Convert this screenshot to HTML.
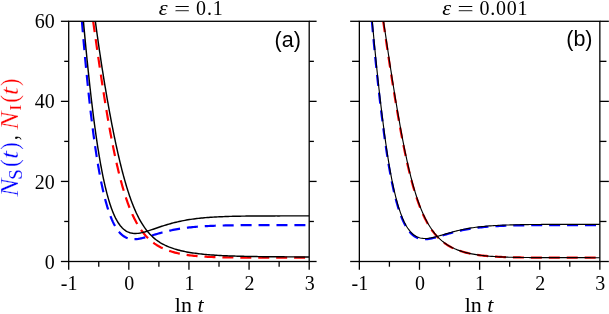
<!DOCTYPE html>
<html><head><meta charset="utf-8"><title>fig</title>
<style>
html,body{margin:0;padding:0;background:#fff;}
svg{display:block;will-change:transform;}
text{font-family:"Liberation Serif",serif;}
.tk{font-size:20px;}
.xl{font-size:22px;}
.tt{font-size:20px;}
.pl{font-family:"Liberation Sans",sans-serif;font-size:21.5px;}
</style></head>
<body>
<svg width="609" height="314" viewBox="0 0 609 314">

<clipPath id="ca"><rect x="68.7" y="21.3" width="240.5" height="240.2"/></clipPath>
<g clip-path="url(#ca)" fill="none">
<path d="M80.00,-2.67 L80.12,-1.17 L80.24,0.32 L80.35,1.82 L80.47,3.31 L80.59,4.81 L80.71,6.30 L80.82,7.80 L80.94,9.29 L81.06,10.79 L81.18,12.28 L81.30,13.77 L81.42,15.27 L81.55,16.76 L81.67,18.26 L81.79,19.75 L81.91,21.25 L82.04,22.74 L82.16,24.23 L82.29,25.73 L82.41,27.22 L82.54,28.72 L82.66,30.21 L82.79,31.70 L82.92,33.20 L83.04,34.69 L83.17,36.19 L83.30,37.68 L83.43,39.17 L83.56,40.67 L83.69,42.16 L83.82,43.65 L83.95,45.15 L84.09,46.64 L84.22,48.13 L84.35,49.63 L84.49,51.12 L84.62,52.61 L84.76,54.11 L84.90,55.60 L85.03,57.09 L85.17,58.59 L85.31,60.08 L85.45,61.57 L85.59,63.07 L85.73,64.56 L85.87,66.05 L86.01,67.54 L86.16,69.04 L86.30,70.53 L86.45,72.02 L86.59,73.51 L86.74,75.00 L86.89,76.50 L87.03,77.99 L87.18,79.48 L87.33,80.97 L87.48,82.46 L87.64,83.96 L87.79,85.45 L87.94,86.94 L88.10,88.43 L88.25,89.92 L88.41,91.41 L88.57,92.90 L88.73,94.39 L88.89,95.88 L89.05,97.37 L89.21,98.87 L89.38,100.36 L89.54,101.85 L89.71,103.34 L89.87,104.83 L90.04,106.32 L90.21,107.81 L90.38,109.29 L90.55,110.78 L90.73,112.27 L90.90,113.76 L91.08,115.25 L91.25,116.74 L91.43,118.23 L91.61,119.72 L91.80,121.21 L91.98,122.69 L92.16,124.18 L92.35,125.67 L92.54,127.16 L92.73,128.64 L92.92,130.13 L93.12,131.62 L93.31,133.10 L93.51,134.59 L93.71,136.08 L93.91,137.56 L94.11,139.05 L94.32,140.53 L94.52,142.02 L94.73,143.50 L94.95,144.99 L95.16,146.47 L95.38,147.95 L95.59,149.44 L95.81,150.92 L96.04,152.40 L96.26,153.88 L96.49,155.37 L96.73,156.85 L96.96,158.33 L97.20,159.81 L97.44,161.29 L97.68,162.77 L97.93,164.25 L98.18,165.73 L98.43,167.20 L98.69,168.68 L98.95,170.16 L99.22,171.63 L99.48,173.11 L99.76,174.58 L100.03,176.05 L100.32,177.53 L100.60,179.00 L100.89,180.47 L101.19,181.94 L101.49,183.41 L101.80,184.88 L102.11,186.34 L102.43,187.81 L102.75,189.27 L103.08,190.73 L103.42,192.19 L103.76,193.65 L104.12,195.11 L104.48,196.57 L104.84,198.02 L105.22,199.47 L105.61,200.92 L106.00,202.37 L106.41,203.81 L106.82,205.25 L107.25,206.69 L107.69,208.12 L108.15,209.55 L108.62,210.97 L109.10,212.39 L109.60,213.81 L110.11,215.21 L110.65,216.61 L111.21,218.01 L111.78,219.39 L112.39,220.76 L113.01,222.12 L113.67,223.47 L114.36,224.80 L115.08,226.12 L115.84,227.41 L116.64,228.68 L117.49,229.91 L118.39,231.11 L119.34,232.27 L120.36,233.37 L121.44,234.41 L122.58,235.38 L123.80,236.26 L125.08,237.04 L126.42,237.70 L127.82,238.25 L129.26,238.66 L130.73,238.96 L132.22,239.13 L133.71,239.20 L135.21,239.17 L136.71,239.06 L138.20,238.88 L139.68,238.65 L141.15,238.36 L142.61,238.04 L144.07,237.69 L145.52,237.31 L146.97,236.91 L148.41,236.50 L149.85,236.08 L151.28,235.66 L152.72,235.23 L154.16,234.80 L155.60,234.37 L157.03,233.95 L158.47,233.53 L159.92,233.13 L161.36,232.73 L162.81,232.34 L164.26,231.96 L165.71,231.59 L167.17,231.24 L168.63,230.90 L170.09,230.57 L171.56,230.25 L173.03,229.95 L174.50,229.66 L175.97,229.39 L177.45,229.12 L178.93,228.87 L180.41,228.64 L181.89,228.41 L183.37,228.20 L184.86,228.00 L186.35,227.81 L187.84,227.63 L189.33,227.46 L190.82,227.30 L192.31,227.15 L193.80,227.01 L195.29,226.87 L196.79,226.75 L198.28,226.63 L199.78,226.52 L201.27,226.42 L202.77,226.33 L204.27,226.24 L205.76,226.15 L207.26,226.07 L208.76,226.00 L210.26,225.93 L211.75,225.87 L213.25,225.81 L214.75,225.75 L216.25,225.70 L217.75,225.65 L219.25,225.61 L220.75,225.57 L222.24,225.53 L223.74,225.49 L225.24,225.46 L226.74,225.43 L228.24,225.40 L229.74,225.37 L231.24,225.34 L232.74,225.32 L234.24,225.30 L235.74,225.28 L237.23,225.26 L238.73,225.24 L240.23,225.23 L241.73,225.21 L243.23,225.20 L244.73,225.18 L246.23,225.17 L247.73,225.16 L249.23,225.15 L250.73,225.14 L252.23,225.13 L253.73,225.12 L255.23,225.12 L256.72,225.11 L258.22,225.10 L259.72,225.10 L261.22,225.09 L262.72,225.09 L264.22,225.08 L265.72,225.08 L267.22,225.07 L268.72,225.07 L270.22,225.07 L271.72,225.06 L273.22,225.06 L274.72,225.06 L276.22,225.05 L277.71,225.05 L279.21,225.05 L280.71,225.05 L282.21,225.05 L283.71,225.04 L285.21,225.04 L286.71,225.04 L288.21,225.04 L289.71,225.04 L291.21,225.04 L292.71,225.04 L294.21,225.03 L295.71,225.03 L297.21,225.03 L298.70,225.03 L300.20,225.03 L301.70,225.03 L303.20,225.03 L304.70,225.03 L306.20,225.03 L307.70,225.03 L309.20,225.03" stroke="#0000ff" stroke-width="2.2" stroke-dasharray="11.0 6.93" stroke-dashoffset="11.82"/>
<path d="M89.86,-2.57 L90.07,-1.09 L90.27,0.39 L90.48,1.88 L90.69,3.36 L90.89,4.84 L91.10,6.32 L91.30,7.80 L91.51,9.28 L91.71,10.76 L91.92,12.24 L92.12,13.72 L92.33,15.21 L92.54,16.69 L92.74,18.17 L92.95,19.65 L93.15,21.13 L93.36,22.61 L93.57,24.09 L93.78,25.57 L93.98,27.05 L94.19,28.54 L94.40,30.02 L94.61,31.50 L94.81,32.98 L95.02,34.46 L95.23,35.94 L95.44,37.42 L95.65,38.90 L95.86,40.38 L96.07,41.86 L96.28,43.34 L96.49,44.82 L96.70,46.30 L96.91,47.78 L97.12,49.26 L97.34,50.74 L97.55,52.22 L97.76,53.71 L97.98,55.19 L98.19,56.67 L98.40,58.14 L98.62,59.62 L98.84,61.10 L99.05,62.58 L99.27,64.06 L99.49,65.54 L99.70,67.02 L99.92,68.50 L100.14,69.98 L100.36,71.46 L100.58,72.94 L100.80,74.42 L101.03,75.90 L101.25,77.38 L101.47,78.85 L101.70,80.33 L101.92,81.81 L102.15,83.29 L102.38,84.77 L102.60,86.25 L102.83,87.72 L103.06,89.20 L103.29,90.68 L103.52,92.16 L103.76,93.63 L103.99,95.11 L104.22,96.59 L104.46,98.06 L104.70,99.54 L104.93,101.02 L105.17,102.49 L105.41,103.97 L105.65,105.44 L105.90,106.92 L106.14,108.40 L106.39,109.87 L106.63,111.35 L106.88,112.82 L107.13,114.29 L107.38,115.77 L107.63,117.24 L107.89,118.72 L108.14,120.19 L108.40,121.66 L108.66,123.14 L108.92,124.61 L109.18,126.08 L109.45,127.55 L109.71,129.02 L109.98,130.50 L110.25,131.97 L110.52,133.44 L110.80,134.91 L111.07,136.38 L111.35,137.85 L111.63,139.31 L111.92,140.78 L112.20,142.25 L112.49,143.72 L112.78,145.19 L113.07,146.65 L113.37,148.12 L113.66,149.58 L113.97,151.05 L114.27,152.51 L114.58,153.98 L114.89,155.44 L115.20,156.90 L115.52,158.36 L115.84,159.82 L116.16,161.28 L116.49,162.74 L116.82,164.20 L117.15,165.66 L117.49,167.11 L117.83,168.57 L118.18,170.02 L118.53,171.48 L118.89,172.93 L119.25,174.38 L119.61,175.83 L119.98,177.28 L120.36,178.73 L120.74,180.17 L121.13,181.62 L121.52,183.06 L121.92,184.50 L122.32,185.94 L122.74,187.38 L123.15,188.82 L123.58,190.25 L124.01,191.68 L124.45,193.11 L124.90,194.54 L125.36,195.96 L125.82,197.38 L126.30,198.80 L126.78,200.21 L127.28,201.63 L127.78,203.03 L128.30,204.44 L128.82,205.84 L129.36,207.23 L129.91,208.62 L130.47,210.01 L131.05,211.39 L131.64,212.76 L132.25,214.13 L132.87,215.49 L133.51,216.84 L134.16,218.18 L134.84,219.52 L135.53,220.85 L136.24,222.16 L136.97,223.46 L137.73,224.76 L138.50,226.03 L139.30,227.30 L140.13,228.55 L140.97,229.78 L141.85,230.99 L142.75,232.18 L143.68,233.36 L144.64,234.50 L145.62,235.63 L146.64,236.73 L147.68,237.80 L148.75,238.84 L149.86,239.85 L150.99,240.83 L152.15,241.77 L153.33,242.69 L154.54,243.56 L155.78,244.40 L157.04,245.21 L158.32,245.97 L159.63,246.70 L160.95,247.40 L162.29,248.06 L163.65,248.69 L165.03,249.28 L166.41,249.84 L167.81,250.36 L169.22,250.86 L170.64,251.33 L172.07,251.77 L173.51,252.18 L174.95,252.57 L176.40,252.93 L177.86,253.27 L179.32,253.59 L180.79,253.88 L182.26,254.16 L183.73,254.42 L185.21,254.66 L186.68,254.89 L188.16,255.10 L189.65,255.29 L191.13,255.48 L192.62,255.65 L194.10,255.80 L195.59,255.95 L197.08,256.09 L198.57,256.21 L200.06,256.33 L201.55,256.44 L203.05,256.54 L204.54,256.63 L206.03,256.72 L207.52,256.80 L209.02,256.87 L210.51,256.94 L212.01,257.00 L213.50,257.06 L214.99,257.11 L216.49,257.16 L217.98,257.21 L219.48,257.25 L220.97,257.29 L222.47,257.32 L223.96,257.35 L225.46,257.38 L226.95,257.41 L228.45,257.44 L229.94,257.46 L231.44,257.48 L232.94,257.50 L234.43,257.52 L235.93,257.53 L237.42,257.55 L238.92,257.56 L240.41,257.57 L241.91,257.58 L243.40,257.60 L244.90,257.60 L246.39,257.61 L247.89,257.62 L249.38,257.63 L250.88,257.63 L252.37,257.64 L253.87,257.65 L255.37,257.65 L256.86,257.66 L258.36,257.66 L259.85,257.66 L261.35,257.67 L262.84,257.67 L264.34,257.67 L265.83,257.67 L267.33,257.68 L268.82,257.68 L270.32,257.68 L271.81,257.68 L273.31,257.68 L274.81,257.68 L276.30,257.69 L277.80,257.69 L279.29,257.69 L280.79,257.69 L282.28,257.69 L283.78,257.69 L285.27,257.69 L286.77,257.69 L288.26,257.69 L289.76,257.69 L291.26,257.69 L292.75,257.69 L294.25,257.69 L295.74,257.69 L297.24,257.69 L298.73,257.69 L300.23,257.70 L301.72,257.70 L303.22,257.70 L304.71,257.70 L306.21,257.70 L307.70,257.70 L309.20,257.70" stroke="#ff0000" stroke-width="2.2" stroke-dasharray="11.0 6.93" stroke-dashoffset="11.76"/>
<path d="M81.39,-2.02 L81.51,-0.53 L81.64,0.97 L81.77,2.46 L81.90,3.96 L82.03,5.45 L82.16,6.94 L82.29,8.44 L82.42,9.93 L82.55,11.43 L82.68,12.92 L82.82,14.41 L82.95,15.91 L83.08,17.40 L83.22,18.90 L83.35,20.39 L83.49,21.88 L83.62,23.38 L83.76,24.87 L83.89,26.36 L84.03,27.86 L84.17,29.35 L84.30,30.84 L84.44,32.34 L84.58,33.83 L84.72,35.32 L84.86,36.82 L85.00,38.31 L85.14,39.80 L85.28,41.30 L85.42,42.79 L85.57,44.28 L85.71,45.78 L85.85,47.27 L86.00,48.76 L86.14,50.25 L86.29,51.75 L86.44,53.24 L86.59,54.73 L86.73,56.22 L86.88,57.72 L87.03,59.21 L87.18,60.70 L87.33,62.19 L87.48,63.68 L87.64,65.18 L87.79,66.67 L87.94,68.16 L88.10,69.65 L88.25,71.14 L88.41,72.64 L88.57,74.13 L88.73,75.62 L88.89,77.11 L89.05,78.60 L89.21,80.09 L89.37,81.58 L89.53,83.07 L89.69,84.56 L89.86,86.05 L90.02,87.55 L90.19,89.04 L90.36,90.53 L90.53,92.02 L90.70,93.51 L90.87,95.00 L91.04,96.49 L91.21,97.98 L91.39,99.47 L91.56,100.96 L91.74,102.44 L91.92,103.93 L92.10,105.42 L92.28,106.91 L92.46,108.40 L92.64,109.89 L92.83,111.38 L93.01,112.87 L93.20,114.35 L93.39,115.84 L93.58,117.33 L93.77,118.82 L93.97,120.30 L94.16,121.79 L94.36,123.28 L94.56,124.76 L94.76,126.25 L94.96,127.74 L95.16,129.22 L95.37,130.71 L95.57,132.19 L95.78,133.68 L95.99,135.16 L96.21,136.65 L96.42,138.13 L96.64,139.62 L96.86,141.10 L97.08,142.58 L97.31,144.06 L97.53,145.55 L97.76,147.03 L98.00,148.51 L98.23,149.99 L98.47,151.47 L98.71,152.95 L98.95,154.43 L99.20,155.91 L99.45,157.39 L99.70,158.87 L99.95,160.35 L100.21,161.83 L100.47,163.30 L100.74,164.78 L101.01,166.25 L101.28,167.73 L101.56,169.20 L101.84,170.67 L102.13,172.15 L102.42,173.62 L102.71,175.09 L103.01,176.56 L103.32,178.03 L103.63,179.49 L103.95,180.96 L104.27,182.42 L104.60,183.89 L104.93,185.35 L105.27,186.81 L105.62,188.27 L105.98,189.73 L106.34,191.18 L106.71,192.63 L107.09,194.09 L107.48,195.53 L107.88,196.98 L108.29,198.42 L108.71,199.86 L109.14,201.30 L109.58,202.73 L110.04,204.16 L110.51,205.58 L110.99,207.00 L111.49,208.42 L112.01,209.82 L112.55,211.22 L113.11,212.62 L113.69,214.00 L114.29,215.37 L114.92,216.73 L115.58,218.08 L116.27,219.41 L117.00,220.72 L117.76,222.01 L118.57,223.28 L119.42,224.51 L120.32,225.71 L121.28,226.86 L122.31,227.96 L123.39,228.99 L124.55,229.94 L125.78,230.80 L127.08,231.55 L128.44,232.19 L129.85,232.69 L131.30,233.06 L132.78,233.30 L134.28,233.42 L135.77,233.43 L137.27,233.35 L138.76,233.18 L140.24,232.94 L141.71,232.65 L143.17,232.31 L144.62,231.93 L146.07,231.51 L147.50,231.08 L148.93,230.63 L150.36,230.16 L151.78,229.68 L153.20,229.20 L154.62,228.71 L156.04,228.23 L157.45,227.74 L158.87,227.26 L160.30,226.78 L161.72,226.31 L163.15,225.85 L164.58,225.40 L166.01,224.95 L167.45,224.52 L168.89,224.10 L170.33,223.70 L171.78,223.30 L173.23,222.92 L174.68,222.55 L176.14,222.19 L177.60,221.85 L179.06,221.52 L180.53,221.21 L182.00,220.91 L183.47,220.62 L184.94,220.34 L186.42,220.08 L187.90,219.83 L189.38,219.59 L190.86,219.36 L192.34,219.14 L193.83,218.94 L195.32,218.75 L196.81,218.56 L198.29,218.39 L199.79,218.22 L201.28,218.07 L202.77,217.92 L204.26,217.78 L205.76,217.65 L207.25,217.53 L208.75,217.42 L210.24,217.31 L211.74,217.21 L213.24,217.11 L214.73,217.02 L216.23,216.94 L217.73,216.86 L219.23,216.79 L220.72,216.72 L222.22,216.66 L223.72,216.60 L225.22,216.54 L226.72,216.49 L228.22,216.44 L229.72,216.40 L231.22,216.36 L232.72,216.32 L234.22,216.28 L235.71,216.25 L237.21,216.22 L238.71,216.19 L240.21,216.17 L241.71,216.14 L243.21,216.12 L244.71,216.10 L246.21,216.08 L247.71,216.06 L249.21,216.05 L250.71,216.03 L252.21,216.02 L253.71,216.00 L255.21,215.99 L256.71,215.98 L258.21,215.97 L259.71,215.96 L261.21,215.95 L262.71,215.95 L264.21,215.94 L265.71,215.93 L267.21,215.93 L268.71,215.92 L270.21,215.92 L271.71,215.91 L273.21,215.91 L274.71,215.91 L276.21,215.90 L277.71,215.90 L279.21,215.90 L280.70,215.89 L282.20,215.89 L283.70,215.89 L285.20,215.89 L286.70,215.89 L288.20,215.89 L289.70,215.88 L291.20,215.88 L292.70,215.88 L294.20,215.88 L295.70,215.88 L297.20,215.88 L298.70,215.88 L300.20,215.88 L301.70,215.88 L303.20,215.88 L304.70,215.88 L306.20,215.88 L307.70,215.88 L309.20,215.87" stroke="#000" stroke-width="1.45"/>
<path d="M92.33,-2.34 L92.51,-0.86 L92.70,0.63 L92.88,2.11 L93.07,3.60 L93.25,5.08 L93.44,6.57 L93.63,8.05 L93.82,9.53 L94.01,11.02 L94.20,12.50 L94.39,13.99 L94.58,15.47 L94.78,16.95 L94.97,18.44 L95.17,19.92 L95.37,21.40 L95.57,22.89 L95.77,24.37 L95.97,25.85 L96.17,27.33 L96.37,28.82 L96.57,30.30 L96.78,31.78 L96.98,33.26 L97.19,34.74 L97.40,36.23 L97.61,37.71 L97.82,39.19 L98.03,40.67 L98.24,42.15 L98.45,43.63 L98.66,45.11 L98.88,46.59 L99.10,48.07 L99.31,49.55 L99.53,51.03 L99.75,52.51 L99.97,53.99 L100.19,55.47 L100.41,56.95 L100.64,58.43 L100.86,59.91 L101.09,61.39 L101.31,62.87 L101.54,64.35 L101.77,65.83 L102.00,67.30 L102.23,68.78 L102.46,70.26 L102.70,71.74 L102.93,73.22 L103.17,74.69 L103.41,76.17 L103.64,77.65 L103.88,79.12 L104.12,80.60 L104.37,82.08 L104.61,83.55 L104.85,85.03 L105.10,86.51 L105.35,87.98 L105.59,89.46 L105.84,90.93 L106.09,92.41 L106.35,93.88 L106.60,95.36 L106.85,96.83 L107.11,98.30 L107.37,99.78 L107.62,101.25 L107.89,102.72 L108.15,104.20 L108.41,105.67 L108.67,107.14 L108.94,108.62 L109.21,110.09 L109.48,111.56 L109.75,113.03 L110.02,114.50 L110.29,115.97 L110.57,117.44 L110.85,118.91 L111.13,120.38 L111.41,121.85 L111.69,123.32 L111.97,124.79 L112.26,126.26 L112.55,127.73 L112.84,129.20 L113.13,130.66 L113.42,132.13 L113.72,133.60 L114.02,135.06 L114.32,136.53 L114.62,137.99 L114.93,139.46 L115.23,140.92 L115.54,142.39 L115.86,143.85 L116.17,145.31 L116.49,146.77 L116.81,148.23 L117.13,149.70 L117.46,151.16 L117.78,152.62 L118.12,154.07 L118.45,155.53 L118.79,156.99 L119.13,158.45 L119.47,159.90 L119.82,161.36 L120.17,162.81 L120.53,164.27 L120.88,165.72 L121.25,167.17 L121.61,168.62 L121.98,170.07 L122.36,171.52 L122.74,172.97 L123.12,174.41 L123.51,175.86 L123.91,177.30 L124.31,178.74 L124.71,180.18 L125.12,181.62 L125.54,183.06 L125.96,184.49 L126.39,185.93 L126.82,187.36 L127.26,188.79 L127.71,190.21 L128.17,191.64 L128.63,193.06 L129.10,194.48 L129.58,195.90 L130.07,197.31 L130.57,198.72 L131.08,200.13 L131.59,201.54 L132.12,202.94 L132.66,204.33 L133.21,205.72 L133.77,207.11 L134.35,208.49 L134.94,209.87 L135.54,211.23 L136.15,212.60 L136.79,213.95 L137.44,215.30 L138.10,216.64 L138.78,217.97 L139.49,219.29 L140.21,220.60 L140.95,221.90 L141.72,223.19 L142.51,224.46 L143.32,225.72 L144.15,226.96 L145.01,228.18 L145.90,229.38 L146.82,230.57 L147.77,231.73 L148.74,232.86 L149.74,233.97 L150.78,235.05 L151.84,236.10 L152.94,237.12 L154.06,238.11 L155.21,239.06 L156.40,239.98 L157.61,240.86 L158.84,241.70 L160.10,242.51 L161.38,243.28 L162.69,244.01 L164.01,244.71 L165.35,245.37 L166.71,246.00 L168.08,246.59 L169.47,247.16 L170.87,247.69 L172.28,248.19 L173.70,248.67 L175.12,249.11 L176.56,249.54 L178.00,249.94 L179.45,250.32 L180.90,250.68 L182.36,251.01 L183.82,251.33 L185.28,251.64 L186.75,251.92 L188.22,252.19 L189.70,252.45 L191.18,252.69 L192.65,252.92 L194.13,253.13 L195.62,253.34 L197.10,253.53 L198.58,253.72 L200.07,253.89 L201.56,254.05 L203.05,254.21 L204.53,254.35 L206.02,254.49 L207.51,254.62 L209.01,254.75 L210.50,254.87 L211.99,254.98 L213.48,255.08 L214.97,255.18 L216.47,255.28 L217.96,255.37 L219.45,255.45 L220.95,255.53 L222.44,255.61 L223.94,255.68 L225.43,255.75 L226.93,255.81 L228.42,255.88 L229.92,255.93 L231.41,255.99 L232.91,256.04 L234.40,256.09 L235.90,256.14 L237.39,256.18 L238.89,256.22 L240.38,256.26 L241.88,256.30 L243.38,256.34 L244.87,256.37 L246.37,256.40 L247.86,256.43 L249.36,256.46 L250.85,256.49 L252.35,256.52 L253.85,256.54 L255.34,256.57 L256.84,256.59 L258.33,256.61 L259.83,256.63 L261.33,256.65 L262.82,256.67 L264.32,256.68 L265.81,256.70 L267.31,256.72 L268.81,256.73 L270.30,256.75 L271.80,256.76 L273.29,256.77 L274.79,256.78 L276.29,256.79 L277.78,256.81 L279.28,256.82 L280.77,256.83 L282.27,256.84 L283.77,256.84 L285.26,256.85 L286.76,256.86 L288.25,256.87 L289.75,256.88 L291.25,256.88 L292.74,256.89 L294.24,256.90 L295.74,256.90 L297.23,256.91 L298.73,256.91 L300.22,256.92 L301.72,256.92 L303.22,256.93 L304.71,256.93 L306.21,256.94 L307.70,256.94 L309.20,256.94" stroke="#000" stroke-width="1.45"/>
</g>
<clipPath id="cb"><rect x="359.35" y="21.3" width="240.5" height="240.2"/></clipPath>
<g clip-path="url(#cb)" fill="none">
<path d="M369.78,-2.67 L369.91,-1.17 L370.04,0.32 L370.16,1.82 L370.29,3.31 L370.42,4.81 L370.55,6.30 L370.68,7.80 L370.81,9.29 L370.94,10.79 L371.07,12.28 L371.20,13.77 L371.33,15.27 L371.46,16.76 L371.60,18.26 L371.73,19.75 L371.86,21.25 L372.00,22.74 L372.13,24.23 L372.27,25.73 L372.40,27.22 L372.54,28.72 L372.67,30.21 L372.81,31.70 L372.95,33.20 L373.09,34.69 L373.23,36.19 L373.37,37.68 L373.51,39.17 L373.65,40.67 L373.79,42.16 L373.93,43.65 L374.07,45.15 L374.22,46.64 L374.36,48.13 L374.50,49.63 L374.65,51.12 L374.80,52.61 L374.94,54.11 L375.09,55.60 L375.24,57.09 L375.39,58.59 L375.53,60.08 L375.68,61.57 L375.84,63.07 L375.99,64.56 L376.14,66.05 L376.29,67.54 L376.45,69.04 L376.60,70.53 L376.76,72.02 L376.91,73.51 L377.07,75.00 L377.23,76.50 L377.39,77.99 L377.55,79.48 L377.71,80.97 L377.87,82.46 L378.03,83.96 L378.19,85.45 L378.36,86.94 L378.52,88.43 L378.69,89.92 L378.86,91.41 L379.03,92.90 L379.20,94.39 L379.37,95.88 L379.54,97.37 L379.71,98.87 L379.89,100.36 L380.06,101.85 L380.24,103.34 L380.41,104.83 L380.59,106.32 L380.77,107.81 L380.96,109.29 L381.14,110.78 L381.32,112.27 L381.51,113.76 L381.69,115.25 L381.88,116.74 L382.07,118.23 L382.26,119.72 L382.45,121.21 L382.63,122.69 L382.81,124.18 L383.00,125.67 L383.19,127.16 L383.38,128.64 L383.57,130.13 L383.77,131.62 L383.96,133.10 L384.16,134.59 L384.36,136.08 L384.56,137.56 L384.76,139.05 L384.97,140.53 L385.17,142.02 L385.38,143.50 L385.60,144.99 L385.81,146.47 L386.03,147.95 L386.24,149.44 L386.46,150.92 L386.69,152.40 L386.91,153.88 L387.14,155.37 L387.38,156.85 L387.61,158.33 L387.85,159.81 L388.09,161.29 L388.33,162.77 L388.58,164.25 L388.83,165.73 L389.08,167.20 L389.34,168.68 L389.60,170.16 L389.87,171.63 L390.13,173.11 L390.41,174.58 L390.68,176.05 L390.97,177.53 L391.25,179.00 L391.54,180.47 L391.84,181.94 L392.14,183.41 L392.45,184.88 L392.76,186.34 L393.08,187.81 L393.40,189.27 L393.73,190.73 L394.07,192.19 L394.41,193.65 L394.77,195.11 L395.13,196.57 L395.49,198.02 L395.87,199.47 L396.26,200.92 L396.65,202.37 L397.06,203.81 L397.47,205.25 L397.90,206.69 L398.34,208.12 L398.80,209.55 L399.27,210.97 L399.75,212.39 L400.25,213.81 L400.76,215.21 L401.30,216.61 L401.86,218.01 L402.43,219.39 L403.04,220.76 L403.66,222.12 L404.32,223.47 L405.01,224.80 L405.73,226.12 L406.49,227.41 L407.29,228.68 L408.14,229.91 L409.04,231.11 L409.99,232.27 L411.01,233.37 L412.09,234.41 L413.23,235.38 L414.45,236.26 L415.73,237.04 L417.07,237.70 L418.47,238.25 L419.91,238.66 L421.38,238.96 L422.87,239.13 L424.36,239.20 L425.86,239.17 L427.36,239.06 L428.85,238.88 L430.33,238.65 L431.80,238.36 L433.26,238.04 L434.72,237.69 L436.17,237.31 L437.62,236.91 L439.06,236.50 L440.50,236.08 L441.93,235.66 L443.37,235.23 L444.81,234.80 L446.25,234.37 L447.68,233.95 L449.12,233.53 L450.57,233.13 L452.01,232.73 L453.46,232.34 L454.91,231.96 L456.36,231.59 L457.82,231.24 L459.28,230.90 L460.74,230.57 L462.21,230.25 L463.68,229.95 L465.15,229.66 L466.62,229.39 L468.10,229.12 L469.58,228.87 L471.06,228.64 L472.54,228.41 L474.02,228.20 L475.51,228.00 L477.00,227.81 L478.49,227.63 L479.98,227.46 L481.47,227.30 L482.96,227.15 L484.45,227.01 L485.94,226.87 L487.44,226.75 L488.93,226.63 L490.43,226.52 L491.92,226.42 L493.42,226.33 L494.92,226.24 L496.41,226.15 L497.91,226.07 L499.41,226.00 L500.91,225.93 L502.40,225.87 L503.90,225.81 L505.40,225.75 L506.90,225.70 L508.40,225.65 L509.90,225.61 L511.40,225.57 L512.89,225.53 L514.39,225.49 L515.89,225.46 L517.39,225.43 L518.89,225.40 L520.39,225.37 L521.89,225.34 L523.39,225.32 L524.89,225.30 L526.39,225.28 L527.88,225.26 L529.38,225.24 L530.88,225.23 L532.38,225.21 L533.88,225.20 L535.38,225.18 L536.88,225.17 L538.38,225.16 L539.88,225.15 L541.38,225.14 L542.88,225.13 L544.38,225.12 L545.88,225.12 L547.37,225.11 L548.87,225.10 L550.37,225.10 L551.87,225.09 L553.37,225.09 L554.87,225.08 L556.37,225.08 L557.87,225.07 L559.37,225.07 L560.87,225.07 L562.37,225.06 L563.87,225.06 L565.37,225.06 L566.87,225.05 L568.36,225.05 L569.86,225.05 L571.36,225.05 L572.86,225.05 L574.36,225.04 L575.86,225.04 L577.36,225.04 L578.86,225.04 L580.36,225.04 L581.86,225.04 L583.36,225.04 L584.86,225.03 L586.36,225.03 L587.86,225.03 L589.35,225.03 L590.85,225.03 L592.35,225.03 L593.85,225.03 L595.35,225.03 L596.85,225.03 L598.35,225.03 L599.85,225.03" stroke="#0000ff" stroke-width="2.2" stroke-dasharray="11.0 6.93" stroke-dashoffset="11.80"/>
<path d="M379.77,-2.57 L379.98,-1.09 L380.20,0.39 L380.41,1.88 L380.63,3.36 L380.84,4.84 L381.05,6.32 L381.27,7.80 L381.48,9.28 L381.70,10.76 L381.91,12.24 L382.13,13.72 L382.34,15.21 L382.56,16.69 L382.77,18.17 L382.99,19.65 L383.20,21.13 L383.42,22.61 L383.64,24.09 L383.85,25.57 L384.07,27.05 L384.28,28.54 L384.50,30.02 L384.72,31.50 L384.93,32.98 L385.15,34.46 L385.37,35.94 L385.59,37.42 L385.81,38.90 L386.02,40.38 L386.24,41.86 L386.46,43.34 L386.68,44.82 L386.90,46.30 L387.12,47.78 L387.34,49.26 L387.57,50.74 L387.79,52.22 L388.01,53.71 L388.23,55.19 L388.45,56.67 L388.68,58.14 L388.90,59.62 L389.13,61.10 L389.35,62.58 L389.58,64.06 L389.81,65.54 L390.03,67.02 L390.26,68.50 L390.49,69.98 L390.72,71.46 L390.95,72.94 L391.18,74.42 L391.41,75.90 L391.64,77.38 L391.87,78.85 L392.11,80.33 L392.34,81.81 L392.58,83.29 L392.81,84.77 L393.05,86.25 L393.29,87.72 L393.52,89.20 L393.76,90.68 L394.00,92.16 L394.25,93.63 L394.49,95.11 L394.73,96.59 L394.98,98.06 L395.22,99.54 L395.47,101.02 L395.72,102.49 L395.97,103.97 L396.22,105.44 L396.47,106.92 L396.72,108.40 L396.98,109.87 L397.23,111.35 L397.49,112.82 L397.75,114.29 L398.01,115.77 L398.27,117.24 L398.53,118.72 L398.79,120.19 L399.05,121.66 L399.31,123.14 L399.57,124.61 L399.83,126.08 L400.10,127.55 L400.36,129.02 L400.63,130.50 L400.90,131.97 L401.17,133.44 L401.45,134.91 L401.72,136.38 L402.00,137.85 L402.28,139.31 L402.57,140.78 L402.85,142.25 L403.14,143.72 L403.43,145.19 L403.72,146.65 L404.02,148.12 L404.31,149.58 L404.62,151.05 L404.92,152.51 L405.23,153.98 L405.54,155.44 L405.85,156.90 L406.17,158.36 L406.49,159.82 L406.81,161.28 L407.14,162.74 L407.47,164.20 L407.80,165.66 L408.14,167.11 L408.48,168.57 L408.83,170.02 L409.18,171.48 L409.54,172.93 L409.90,174.38 L410.26,175.83 L410.63,177.28 L411.01,178.73 L411.39,180.17 L411.78,181.62 L412.17,183.06 L412.57,184.50 L412.97,185.94 L413.39,187.38 L413.80,188.82 L414.23,190.25 L414.66,191.68 L415.10,193.11 L415.55,194.54 L416.01,195.96 L416.47,197.38 L416.95,198.80 L417.43,200.21 L417.93,201.63 L418.43,203.03 L418.95,204.44 L419.47,205.84 L420.01,207.23 L420.56,208.62 L421.12,210.01 L421.70,211.39 L422.29,212.76 L422.90,214.13 L423.52,215.49 L424.16,216.84 L424.81,218.18 L425.49,219.52 L426.18,220.85 L426.89,222.16 L427.62,223.46 L428.38,224.76 L429.15,226.03 L429.95,227.30 L430.78,228.55 L431.62,229.78 L432.50,230.99 L433.40,232.18 L434.33,233.36 L435.29,234.50 L436.27,235.63 L437.29,236.73 L438.33,237.80 L439.40,238.84 L440.51,239.85 L441.64,240.83 L442.80,241.77 L443.98,242.69 L445.19,243.56 L446.43,244.40 L447.69,245.21 L448.97,245.97 L450.28,246.70 L451.60,247.40 L452.94,248.06 L454.30,248.69 L455.68,249.28 L457.06,249.84 L458.46,250.36 L459.87,250.86 L461.29,251.33 L462.72,251.77 L464.16,252.18 L465.60,252.57 L467.05,252.93 L468.51,253.27 L469.97,253.59 L471.44,253.88 L472.91,254.16 L474.38,254.42 L475.86,254.66 L477.33,254.89 L478.81,255.10 L480.30,255.29 L481.78,255.48 L483.27,255.65 L484.75,255.80 L486.24,255.95 L487.73,256.09 L489.22,256.21 L490.71,256.33 L492.20,256.44 L493.70,256.54 L495.19,256.63 L496.68,256.72 L498.17,256.80 L499.67,256.87 L501.16,256.94 L502.66,257.00 L504.15,257.06 L505.64,257.11 L507.14,257.16 L508.63,257.21 L510.13,257.25 L511.62,257.29 L513.12,257.32 L514.61,257.35 L516.11,257.38 L517.60,257.41 L519.10,257.44 L520.59,257.46 L522.09,257.48 L523.59,257.50 L525.08,257.52 L526.58,257.53 L528.07,257.55 L529.57,257.56 L531.06,257.57 L532.56,257.58 L534.05,257.60 L535.55,257.60 L537.04,257.61 L538.54,257.62 L540.03,257.63 L541.53,257.63 L543.02,257.64 L544.52,257.65 L546.02,257.65 L547.51,257.66 L549.01,257.66 L550.50,257.66 L552.00,257.67 L553.49,257.67 L554.99,257.67 L556.48,257.67 L557.98,257.68 L559.47,257.68 L560.97,257.68 L562.46,257.68 L563.96,257.68 L565.46,257.68 L566.95,257.69 L568.45,257.69 L569.94,257.69 L571.44,257.69 L572.93,257.69 L574.43,257.69 L575.92,257.69 L577.42,257.69 L578.91,257.69 L580.41,257.69 L581.91,257.69 L583.40,257.69 L584.90,257.69 L586.39,257.69 L587.89,257.69 L589.38,257.69 L590.88,257.70 L592.37,257.70 L593.87,257.70 L595.36,257.70 L596.86,257.70 L598.35,257.70 L599.85,257.70" stroke="#ff0000" stroke-width="2.2" stroke-dasharray="11.0 6.93" stroke-dashoffset="11.74"/>
<path d="M370.13,-3.37 L370.26,-1.87 L370.39,-0.38 L370.51,1.12 L370.64,2.61 L370.77,4.11 L370.90,5.60 L371.03,7.10 L371.16,8.59 L371.29,10.09 L371.42,11.58 L371.55,13.07 L371.68,14.57 L371.81,16.06 L371.95,17.56 L372.08,19.05 L372.21,20.55 L372.35,22.04 L372.48,23.53 L372.62,25.03 L372.75,26.52 L372.89,28.02 L373.02,29.51 L373.16,31.00 L373.30,32.50 L373.44,33.99 L373.58,35.49 L373.72,36.98 L373.86,38.47 L374.00,39.97 L374.14,41.46 L374.28,42.95 L374.42,44.45 L374.57,45.94 L374.71,47.43 L374.85,48.93 L375.00,50.42 L375.15,51.91 L375.29,53.41 L375.44,54.90 L375.59,56.39 L375.74,57.89 L375.88,59.38 L376.03,60.87 L376.19,62.37 L376.34,63.86 L376.49,65.35 L376.64,66.84 L376.80,68.34 L376.95,69.83 L377.11,71.32 L377.26,72.81 L377.42,74.30 L377.58,75.80 L377.74,77.29 L377.90,78.78 L378.06,80.27 L378.22,81.76 L378.38,83.26 L378.54,84.75 L378.71,86.24 L378.87,87.73 L379.04,89.22 L379.21,90.71 L379.38,92.20 L379.55,93.69 L379.72,95.18 L379.89,96.67 L380.06,98.17 L380.24,99.66 L380.41,101.15 L380.59,102.64 L380.76,104.13 L380.94,105.62 L381.12,107.11 L381.31,108.59 L381.49,110.08 L381.67,111.57 L381.86,113.06 L382.04,114.55 L382.23,116.04 L382.42,117.53 L382.61,119.02 L382.80,120.51 L382.98,121.99 L383.16,123.48 L383.35,124.97 L383.54,126.46 L383.73,127.94 L383.92,129.43 L384.12,130.92 L384.31,132.40 L384.51,133.89 L384.71,135.38 L384.91,136.86 L385.11,138.35 L385.32,139.83 L385.52,141.32 L385.73,142.80 L385.95,144.29 L386.16,145.77 L386.38,147.25 L386.59,148.74 L386.81,150.22 L387.04,151.70 L387.26,153.18 L387.49,154.67 L387.73,156.15 L387.96,157.63 L388.20,159.11 L388.44,160.59 L388.68,162.07 L388.93,163.55 L389.18,165.03 L389.43,166.50 L389.69,167.98 L389.95,169.46 L390.22,170.93 L390.48,172.41 L390.76,173.88 L391.03,175.35 L391.32,176.83 L391.60,178.30 L391.89,179.77 L392.19,181.24 L392.49,182.71 L392.80,184.18 L393.11,185.64 L393.43,187.11 L393.75,188.57 L394.08,190.03 L394.42,191.49 L394.76,192.95 L395.12,194.41 L395.48,195.87 L395.84,197.32 L396.22,198.77 L396.61,200.22 L397.00,201.67 L397.41,203.11 L397.82,204.55 L398.25,205.99 L398.69,207.42 L399.15,208.85 L399.62,210.27 L400.10,211.69 L400.60,213.11 L401.11,214.51 L401.65,215.91 L402.21,217.31 L402.78,218.69 L403.39,220.06 L404.01,221.42 L404.67,222.77 L405.36,224.10 L406.08,225.42 L406.84,226.71 L407.64,227.98 L408.49,229.21 L409.39,230.41 L410.34,231.57 L411.36,232.67 L412.44,233.71 L413.58,234.68 L414.80,235.56 L416.08,236.34 L417.42,237.00 L418.82,237.55 L420.26,237.96 L421.73,238.26 L423.22,238.43 L424.71,238.50 L426.21,238.47 L427.71,238.36 L429.20,238.18 L430.68,237.95 L432.15,237.66 L433.61,237.34 L435.07,236.99 L436.52,236.61 L437.97,236.21 L439.41,235.80 L440.85,235.38 L442.28,234.96 L443.72,234.53 L445.16,234.10 L446.60,233.67 L448.03,233.25 L449.47,232.83 L450.92,232.43 L452.36,232.03 L453.81,231.64 L455.26,231.26 L456.71,230.89 L458.17,230.54 L459.63,230.20 L461.09,229.87 L462.56,229.55 L464.03,229.25 L465.50,228.96 L466.97,228.69 L468.45,228.42 L469.93,228.17 L471.41,227.94 L472.89,227.71 L474.37,227.50 L475.86,227.30 L477.35,227.11 L478.84,226.93 L480.33,226.76 L481.82,226.60 L483.31,226.45 L484.80,226.31 L486.29,226.17 L487.79,226.05 L489.28,225.93 L490.78,225.82 L492.27,225.72 L493.77,225.63 L495.27,225.54 L496.76,225.45 L498.26,225.37 L499.76,225.30 L501.26,225.23 L502.75,225.17 L504.25,225.11 L505.75,225.05 L507.25,225.00 L508.75,224.95 L510.25,224.91 L511.75,224.87 L513.24,224.83 L514.74,224.79 L516.24,224.76 L517.74,224.73 L519.24,224.70 L520.74,224.67 L522.24,224.64 L523.74,224.62 L525.24,224.60 L526.74,224.58 L528.23,224.56 L529.73,224.54 L531.23,224.53 L532.73,224.51 L534.23,224.50 L535.73,224.48 L537.23,224.47 L538.73,224.46 L540.23,224.45 L541.73,224.44 L543.23,224.43 L544.73,224.42 L546.23,224.42 L547.72,224.41 L549.22,224.40 L550.72,224.40 L552.22,224.39 L553.72,224.39 L555.22,224.38 L556.72,224.38 L558.22,224.37 L559.72,224.37 L561.22,224.37 L562.72,224.36 L564.22,224.36 L565.72,224.36 L567.22,224.35 L568.71,224.35 L570.21,224.35 L571.71,224.35 L573.21,224.35 L574.71,224.34 L576.21,224.34 L577.71,224.34 L579.21,224.34 L580.71,224.34 L582.21,224.34 L583.71,224.34 L585.21,224.33 L586.71,224.33 L588.21,224.33 L589.70,224.33 L591.20,224.33 L592.70,224.33 L594.20,224.33 L595.70,224.33 L597.20,224.33 L598.70,224.33 L600.20,224.33" stroke="#000" stroke-width="1.15"/>
<path d="M380.12,-2.57 L380.33,-1.09 L380.55,0.39 L380.76,1.88 L380.98,3.36 L381.19,4.84 L381.40,6.32 L381.62,7.80 L381.83,9.28 L382.05,10.76 L382.26,12.24 L382.48,13.72 L382.69,15.21 L382.91,16.69 L383.12,18.17 L383.34,19.65 L383.55,21.13 L383.77,22.61 L383.99,24.09 L384.20,25.57 L384.42,27.05 L384.63,28.54 L384.85,30.02 L385.07,31.50 L385.28,32.98 L385.50,34.46 L385.72,35.94 L385.94,37.42 L386.16,38.90 L386.37,40.38 L386.59,41.86 L386.81,43.34 L387.03,44.82 L387.25,46.30 L387.47,47.78 L387.69,49.26 L387.92,50.74 L388.14,52.22 L388.36,53.71 L388.58,55.19 L388.80,56.67 L389.03,58.14 L389.25,59.62 L389.48,61.10 L389.70,62.58 L389.93,64.06 L390.16,65.54 L390.38,67.02 L390.61,68.50 L390.84,69.98 L391.07,71.46 L391.30,72.94 L391.53,74.42 L391.76,75.90 L391.99,77.38 L392.22,78.85 L392.46,80.33 L392.69,81.81 L392.93,83.29 L393.16,84.77 L393.40,86.25 L393.64,87.72 L393.87,89.20 L394.11,90.68 L394.35,92.16 L394.60,93.63 L394.84,95.11 L395.08,96.59 L395.33,98.06 L395.57,99.54 L395.82,101.02 L396.07,102.49 L396.32,103.97 L396.57,105.44 L396.82,106.92 L397.07,108.40 L397.33,109.87 L397.58,111.35 L397.84,112.82 L398.10,114.29 L398.36,115.77 L398.62,117.24 L398.88,118.72 L399.14,120.19 L399.40,121.66 L399.66,123.14 L399.92,124.61 L400.18,126.08 L400.45,127.55 L400.71,129.02 L400.98,130.50 L401.25,131.97 L401.52,133.44 L401.80,134.91 L402.07,136.38 L402.35,137.85 L402.63,139.31 L402.92,140.78 L403.20,142.25 L403.49,143.72 L403.78,145.19 L404.07,146.65 L404.37,148.12 L404.66,149.58 L404.97,151.05 L405.27,152.51 L405.58,153.98 L405.89,155.44 L406.20,156.90 L406.52,158.36 L406.84,159.82 L407.16,161.28 L407.49,162.74 L407.82,164.20 L408.15,165.66 L408.49,167.11 L408.83,168.57 L409.18,170.02 L409.53,171.48 L409.89,172.93 L410.25,174.38 L410.61,175.83 L410.98,177.28 L411.36,178.73 L411.74,180.17 L412.13,181.62 L412.52,183.06 L412.92,184.50 L413.32,185.94 L413.74,187.38 L414.15,188.82 L414.58,190.25 L415.01,191.68 L415.45,193.11 L415.90,194.54 L416.36,195.96 L416.82,197.38 L417.30,198.80 L417.78,200.21 L418.28,201.63 L418.78,203.03 L419.30,204.44 L419.82,205.84 L420.36,207.23 L420.91,208.62 L421.47,210.01 L422.05,211.39 L422.64,212.76 L423.25,214.13 L423.87,215.49 L424.51,216.84 L425.16,218.18 L425.84,219.52 L426.53,220.85 L427.24,222.16 L427.97,223.46 L428.73,224.76 L429.50,226.03 L430.30,227.30 L431.13,228.55 L431.97,229.78 L432.85,230.99 L433.75,232.18 L434.68,233.36 L435.64,234.50 L436.62,235.63 L437.64,236.73 L438.68,237.80 L439.75,238.84 L440.86,239.85 L441.99,240.83 L443.15,241.77 L444.33,242.69 L445.54,243.56 L446.78,244.40 L448.04,245.21 L449.32,245.97 L450.63,246.70 L451.95,247.40 L453.29,248.06 L454.65,248.69 L456.03,249.28 L457.41,249.84 L458.81,250.36 L460.22,250.86 L461.64,251.33 L463.07,251.77 L464.51,252.18 L465.95,252.57 L467.40,252.93 L468.86,253.27 L470.32,253.59 L471.79,253.88 L473.26,254.16 L474.73,254.42 L476.21,254.66 L477.68,254.89 L479.16,255.10 L480.65,255.29 L482.13,255.48 L483.62,255.65 L485.10,255.80 L486.59,255.95 L488.08,256.09 L489.57,256.21 L491.06,256.33 L492.55,256.44 L494.05,256.54 L495.54,256.63 L497.03,256.72 L498.52,256.80 L500.02,256.87 L501.51,256.94 L503.01,257.00 L504.50,257.06 L505.99,257.11 L507.49,257.16 L508.98,257.21 L510.48,257.25 L511.97,257.29 L513.47,257.32 L514.96,257.35 L516.46,257.38 L517.95,257.41 L519.45,257.44 L520.94,257.46 L522.44,257.48 L523.94,257.50 L525.43,257.52 L526.93,257.53 L528.42,257.55 L529.92,257.56 L531.41,257.57 L532.91,257.58 L534.40,257.60 L535.90,257.60 L537.39,257.61 L538.89,257.62 L540.38,257.63 L541.88,257.63 L543.37,257.64 L544.87,257.65 L546.37,257.65 L547.86,257.66 L549.36,257.66 L550.85,257.66 L552.35,257.67 L553.84,257.67 L555.34,257.67 L556.83,257.67 L558.33,257.68 L559.82,257.68 L561.32,257.68 L562.81,257.68 L564.31,257.68 L565.81,257.68 L567.30,257.69 L568.80,257.69 L570.29,257.69 L571.79,257.69 L573.28,257.69 L574.78,257.69 L576.27,257.69 L577.77,257.69 L579.26,257.69 L580.76,257.69 L582.26,257.69 L583.75,257.69 L585.25,257.69 L586.74,257.69 L588.24,257.69 L589.73,257.69 L591.23,257.70 L592.72,257.70 L594.22,257.70 L595.71,257.70 L597.21,257.70 L598.70,257.70 L600.20,257.70" stroke="#000" stroke-width="1.15"/>
</g>
<rect x="68.7" y="21.3" width="240.5" height="240.2" fill="none" stroke="#000" stroke-width="1.3"/>
<line x1="60.90" y1="261.50" x2="68.7" y2="261.50" stroke="#000" stroke-width="1.3"/>
<line x1="309.2" y1="261.50" x2="316.60" y2="261.50" stroke="#000" stroke-width="1.3"/>
<line x1="64.20" y1="221.47" x2="68.7" y2="221.47" stroke="#000" stroke-width="1.3"/>
<line x1="309.2" y1="221.47" x2="313.90" y2="221.47" stroke="#000" stroke-width="1.3"/>
<line x1="60.90" y1="181.43" x2="68.7" y2="181.43" stroke="#000" stroke-width="1.3"/>
<line x1="309.2" y1="181.43" x2="316.60" y2="181.43" stroke="#000" stroke-width="1.3"/>
<line x1="64.20" y1="141.40" x2="68.7" y2="141.40" stroke="#000" stroke-width="1.3"/>
<line x1="309.2" y1="141.40" x2="313.90" y2="141.40" stroke="#000" stroke-width="1.3"/>
<line x1="60.90" y1="101.37" x2="68.7" y2="101.37" stroke="#000" stroke-width="1.3"/>
<line x1="309.2" y1="101.37" x2="316.60" y2="101.37" stroke="#000" stroke-width="1.3"/>
<line x1="64.20" y1="61.33" x2="68.7" y2="61.33" stroke="#000" stroke-width="1.3"/>
<line x1="309.2" y1="61.33" x2="313.90" y2="61.33" stroke="#000" stroke-width="1.3"/>
<line x1="60.90" y1="21.30" x2="68.7" y2="21.30" stroke="#000" stroke-width="1.3"/>
<line x1="309.2" y1="21.30" x2="316.60" y2="21.30" stroke="#000" stroke-width="1.3"/>
<line x1="68.70" y1="261.5" x2="68.70" y2="269.80" stroke="#000" stroke-width="1.3"/>
<line x1="98.76" y1="261.5" x2="98.76" y2="266.70" stroke="#000" stroke-width="1.3"/>
<line x1="128.82" y1="261.5" x2="128.82" y2="269.80" stroke="#000" stroke-width="1.3"/>
<line x1="158.89" y1="261.5" x2="158.89" y2="266.70" stroke="#000" stroke-width="1.3"/>
<line x1="188.95" y1="261.5" x2="188.95" y2="269.80" stroke="#000" stroke-width="1.3"/>
<line x1="219.01" y1="261.5" x2="219.01" y2="266.70" stroke="#000" stroke-width="1.3"/>
<line x1="249.07" y1="261.5" x2="249.07" y2="269.80" stroke="#000" stroke-width="1.3"/>
<line x1="279.14" y1="261.5" x2="279.14" y2="266.70" stroke="#000" stroke-width="1.3"/>
<line x1="309.20" y1="261.5" x2="309.20" y2="269.80" stroke="#000" stroke-width="1.3"/>
<rect x="359.35" y="21.3" width="240.5" height="240.2" fill="none" stroke="#000" stroke-width="1.3"/>
<line x1="350.15" y1="261.50" x2="359.35" y2="261.50" stroke="#000" stroke-width="1.3"/>
<line x1="599.85" y1="261.50" x2="608.85" y2="261.50" stroke="#000" stroke-width="1.3"/>
<line x1="352.05" y1="221.47" x2="359.35" y2="221.47" stroke="#000" stroke-width="1.3"/>
<line x1="599.85" y1="221.47" x2="606.45" y2="221.47" stroke="#000" stroke-width="1.3"/>
<line x1="350.15" y1="181.43" x2="359.35" y2="181.43" stroke="#000" stroke-width="1.3"/>
<line x1="599.85" y1="181.43" x2="608.85" y2="181.43" stroke="#000" stroke-width="1.3"/>
<line x1="352.05" y1="141.40" x2="359.35" y2="141.40" stroke="#000" stroke-width="1.3"/>
<line x1="599.85" y1="141.40" x2="606.45" y2="141.40" stroke="#000" stroke-width="1.3"/>
<line x1="350.15" y1="101.37" x2="359.35" y2="101.37" stroke="#000" stroke-width="1.3"/>
<line x1="599.85" y1="101.37" x2="608.85" y2="101.37" stroke="#000" stroke-width="1.3"/>
<line x1="352.05" y1="61.33" x2="359.35" y2="61.33" stroke="#000" stroke-width="1.3"/>
<line x1="599.85" y1="61.33" x2="606.45" y2="61.33" stroke="#000" stroke-width="1.3"/>
<line x1="350.15" y1="21.30" x2="359.35" y2="21.30" stroke="#000" stroke-width="1.3"/>
<line x1="599.85" y1="21.30" x2="608.85" y2="21.30" stroke="#000" stroke-width="1.3"/>
<line x1="359.35" y1="261.5" x2="359.35" y2="269.80" stroke="#000" stroke-width="1.3"/>
<line x1="389.41" y1="261.5" x2="389.41" y2="266.70" stroke="#000" stroke-width="1.3"/>
<line x1="419.48" y1="261.5" x2="419.48" y2="269.80" stroke="#000" stroke-width="1.3"/>
<line x1="449.54" y1="261.5" x2="449.54" y2="266.70" stroke="#000" stroke-width="1.3"/>
<line x1="479.60" y1="261.5" x2="479.60" y2="269.80" stroke="#000" stroke-width="1.3"/>
<line x1="509.66" y1="261.5" x2="509.66" y2="266.70" stroke="#000" stroke-width="1.3"/>
<line x1="539.73" y1="261.5" x2="539.73" y2="269.80" stroke="#000" stroke-width="1.3"/>
<line x1="569.79" y1="261.5" x2="569.79" y2="266.70" stroke="#000" stroke-width="1.3"/>
<line x1="599.85" y1="261.5" x2="599.85" y2="269.80" stroke="#000" stroke-width="1.3"/>
<text x="54.8" y="268.60" text-anchor="end" class="tk">0</text>
<text x="54.8" y="188.53" text-anchor="end" class="tk">20</text>
<text x="54.8" y="108.47" text-anchor="end" class="tk">40</text>
<text x="54.8" y="28.40" text-anchor="end" class="tk">60</text>
<text x="69.20" y="290" text-anchor="middle" class="tk">-1</text>
<text x="129.32" y="290" text-anchor="middle" class="tk">0</text>
<text x="189.45" y="290" text-anchor="middle" class="tk">1</text>
<text x="249.57" y="290" text-anchor="middle" class="tk">2</text>
<text x="309.70" y="290" text-anchor="middle" class="tk">3</text>
<text x="189.15" y="312.20" text-anchor="middle" class="xl">ln <tspan font-style="italic">t</tspan></text>
<text x="359.85" y="290" text-anchor="middle" class="tk">-1</text>
<text x="419.98" y="290" text-anchor="middle" class="tk">0</text>
<text x="480.10" y="290" text-anchor="middle" class="tk">1</text>
<text x="540.23" y="290" text-anchor="middle" class="tk">2</text>
<text x="600.35" y="290" text-anchor="middle" class="tk">3</text>
<text x="479.10" y="311.60" text-anchor="middle" class="xl">ln <tspan font-style="italic">t</tspan></text>
<g transform="translate(17.6,197) rotate(-90)" font-family="'Liberation Serif', serif"><text transform="translate(0.27,0.00) scale(1.077,1)" fill="#0000ff" stroke="#fff" stroke-width="0.3" font-size="25.3" font-style="italic">N</text><text transform="translate(17.25,4.00) scale(1.061,1)" fill="#0000ff" stroke="#fff" stroke-width="0.12" font-size="18">S</text><text transform="translate(30.07,0.00) scale(0.911,1)" fill="#0000ff" stroke="#fff" stroke-width="0.3" font-size="25.6">(</text><text transform="translate(37.93,0.00) scale(1.124,1)" fill="#0000ff" stroke="#fff" stroke-width="0.3" font-size="26" font-style="italic">t</text><text transform="translate(47.33,0.00) scale(0.871,1)" fill="#0000ff" stroke="#fff" stroke-width="0.3" font-size="25.6">)</text><text transform="translate(56.78,0.00) scale(0.825,1)" fill="#000" stroke="#fff" stroke-width="0.05" font-size="25">,</text><text transform="translate(67.17,0.00) scale(1.077,1)" fill="#ff0000" stroke="#fff" stroke-width="0.3" font-size="25.3" font-style="italic">N</text><text transform="translate(86.14,3.70) scale(1.058,1)" fill="#ff0000" stroke="#fff" stroke-width="0.12" font-size="17.5">I</text><text transform="translate(94.27,0.00) scale(0.911,1)" fill="#ff0000" stroke="#fff" stroke-width="0.3" font-size="25.6">(</text><text transform="translate(101.83,0.00) scale(1.124,1)" fill="#ff0000" stroke="#fff" stroke-width="0.3" font-size="26" font-style="italic">t</text><text transform="translate(110.93,0.00) scale(0.871,1)" fill="#ff0000" stroke="#fff" stroke-width="0.3" font-size="25.6">)</text></g>
<text transform="translate(158.75,14.8) scale(1.13,1)" class="tt" font-style="italic">ε</text><text transform="translate(173.72,16.3) scale(1.479,1)" class="tt" stroke="#fff" stroke-width="0.25">=</text><text x="196.00" y="14.8" class="tt" textLength="26.80" lengthAdjust="spacing">0.1</text>
<text transform="translate(442.25,14.8) scale(1.13,1)" class="tt" font-style="italic">ε</text><text transform="translate(457.22,16.3) scale(1.479,1)" class="tt" stroke="#fff" stroke-width="0.25">=</text><text x="479.50" y="14.8" class="tt" textLength="48.10" lengthAdjust="spacing">0.001</text>
<text x="300.8" y="47.4" text-anchor="end" class="pl">(a)</text>
<text x="592.5" y="45.6" text-anchor="end" class="pl">(b)</text>
</svg>
</body></html>
